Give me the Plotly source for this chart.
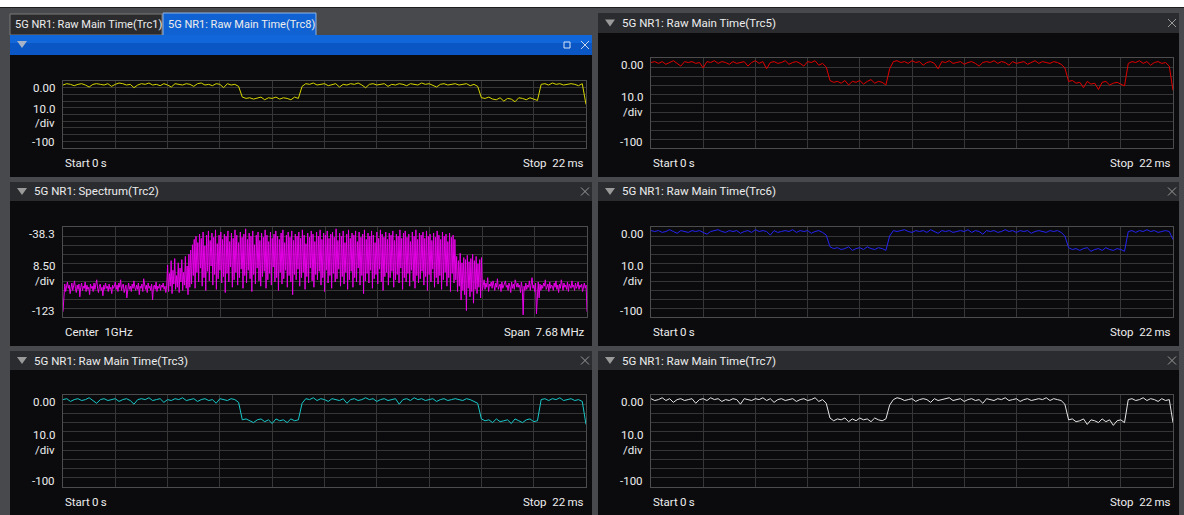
import numpy as np
import plotly.graph_objects as go

W, H = 1184, 515

# ---------------- data ----------------
time_start_ms = 0
time_stop_ms = 22
time_top_db = 0
time_bottom_db = -100
time_div_db = 10

spec_center_ghz = 1
spec_span_mhz = 7.68
spec_top_db = -38.3
spec_bottom_db = -123
spec_div_db = 8.47

trc8_yellow = [
    -6, -4, -5, -7, -5, -4, -6, -9, -5, -4, -5, -6, -4, -8, -5, -3, -4, -6, -5, -10, -6, -4, -5, -3,
    -6, -5, -7, -4, -6, -9, -4, -5, -6, -4, -5, -8, -4, -3, -6, -5, -7, -4, -5, -10, -4, -6, -5, -8,
    -24, -26, -25, -27, -25, -24, -28, -25, -26, -24, -27, -25, -26, -28, -24, -26,
    -8,
    -4, -5, -3, -6, -5, -4, -7, -5, -4, -9, -5, -6, -4, -5, -3, -6, -10, -5, -4, -6, -5, -4, -8, -5,
    -6, -4, -5, -7, -4, -5, -6, -3, -5, -4, -6, -9, -5, -4, -6, -5, -4, -6, -5, -4, -7, -5, -8,
    -25, -26, -24, -27, -28, -25, -30, -26, -27, -31, -25, -26, -28, -25, -27, -29,
    -5, -4, -6, -3, -5, -4, -6, -5, -4, -5, -7, -4,
    -35,
]

trc5_red = [
    -5, -4, -6, -4, -7, -5, -3, -6, -9, -4, -5, -4, -6, -5, -11, -4, -5, -3, -6, -4, -5, -7, -4, -6,
    -5, -4, -9, -5, -3, -6, -4, -12, -5, -4, -6, -5, -3, -7, -5, -4, -6, -9, -4, -5, -3, -8, -6, -10,
    -25, -27, -26, -28, -25, -30, -26, -27, -25, -29, -26, -24, -28, -26, -27, -30,
    -12,
    -4, -3, -5, -4, -6, -3, -5, -4, -8, -5, -4, -6, -12, -4, -5, -3, -6, -5, -4, -7, -5, -4, -6, -9,
    -5, -4, -5, -3, -6, -4, -5, -8, -4, -6, -5, -4, -7, -5, -3, -6, -4, -5, -6, -4, -5, -7, -11,
    -26, -25, -28, -27, -33, -26, -29, -28, -35, -27, -26, -30, -28, -27, -29, -31,
    -6, -4, -5, -3, -6, -4, -8, -5, -4, -6, -5, -9,
    -36,
]

trc6_blue = [
    -4, -5, -4, -6, -5, -3, -5, -7, -4, -5, -6, -4, -5, -4, -6, -8, -5, -4, -3, -5, -6, -4, -5, -4,
    -7, -5, -4, -6, -3, -5, -4, -5, -9, -4, -6, -5, -4, -5, -3, -6, -4, -5, -4, -7, -5, -4, -6, -9,
    -22, -24, -23, -25, -24, -22, -26, -24, -23, -25, -22, -24, -25, -23, -24, -26,
    -10,
    -4, -5, -4, -3, -5, -6, -4, -5, -4, -6, -3, -5, -7, -4, -5, -4, -6, -5, -4, -5, -3, -6, -4, -5,
    -8, -4, -5, -4, -6, -5, -3, -5, -4, -6, -4, -5, -4, -7, -5, -4, -5, -6, -4, -5, -4, -6, -10,
    -23, -25, -24, -26, -24, -23, -27, -25, -24, -26, -23, -25, -26, -24, -25, -27,
    -5, -4, -6, -4, -5, -3, -5, -4, -6, -5, -4, -5,
    -14,
]

trc3_cyan = [
    -5, -4, -7, -5, -4, -6, -5, -3, -6, -9, -5, -4, -6, -5, -4, -7, -5, -4, -6, -10, -5, -4, -5, -3,
    -6, -5, -4, -8, -5, -6, -4, -5, -3, -6, -5, -4, -7, -5, -4, -6, -5, -9, -4, -5, -6, -4, -5, -8,
    -27, -26, -28, -30, -27, -26, -29, -27, -31, -26, -28, -27, -30, -26, -28, -27,
    -9,
    -4, -5, -3, -6, -4, -5, -7, -4, -5, -6, -4, -9, -5, -4, -6, -5, -3, -5, -4, -7, -5, -4, -6, -5,
    -4, -10, -5, -4, -6, -3, -5, -4, -6, -5, -4, -7, -5, -4, -6, -5, -4, -5, -6, -4, -5, -7, -9,
    -26, -28, -27, -30, -26, -29, -28, -27, -31, -26, -28, -30, -27, -26, -29, -28,
    -5, -4, -6, -4, -5, -3, -6, -5, -4, -6, -5, -7,
    -32,
]

trc7_white = [
    -4, -6, -5, -3, -6, -4, -8, -5, -4, -6, -5, -4, -9, -5, -4, -6, -3, -5, -4, -7, -5, -6, -4, -5,
    -10, -4, -5, -6, -4, -5, -3, -6, -4, -8, -5, -4, -6, -5, -4, -7, -5, -4, -6, -5, -3, -7, -5, -9,
    -25, -28, -26, -27, -25, -29, -26, -28, -25, -27, -26, -29, -25, -27, -28, -26,
    -11,
    -5, -3, -4, -6, -5, -4, -7, -5, -4, -5, -8, -4, -6, -5, -4, -3, -6, -5, -4, -7, -5, -4, -6, -5,
    -9, -4, -5, -6, -4, -5, -3, -6, -5, -4, -7, -5, -4, -6, -5, -4, -5, -3, -6, -4, -5, -6, -10,
    -27, -26, -29, -28, -26, -32, -27, -28, -30, -26, -29, -27, -33, -28, -27, -30,
    -5, -4, -6, -5, -3, -6, -4, -5, -7, -4, -6, -5,
    -30,
]

spec_floor_left = [
    -118, -97, -92, -99, -94, -90, -96, -93, -101, -95, -91, -98, -94, -89, -96, -100, -93, -97, -92, -104,
    -95, -91, -98, -94, -96, -90, -99, -93, -97, -95, -102, -92, -96, -94, -99, -91, -97, -93, -88, -96,
    -100, -94, -92, -98, -95, -103, -93, -97, -91, -96, -94, -99, -92, -97, -95, -101, -93, -96, -94, -90,
    -97, -93, -99, -91, -95, -88, -98, -94, -92, -100, -96, -93, -105, -95, -91, -97, -94, -99, -92, -96,
    -89, -95, -98, -93, -97, -91, -102, -94, -96, -92, -99, -87, -95, -97, -93, -100, -91, -96, -94, -98,
    -92, -107, -95, -93, -97, -90, -99, -94, -96, -92, -98, -93, -95, -91, -97, -94, -100, -93,
]
spec_edge_left = [
    -74, -99, -82, -94, -70, -101, -79, -92, -68, -97, -84, -95, -72,
    -100, -77, -90, -69, -98, -81, -93, -66, -96, -75, -102, -64, -95,
]
spec_band = [
    -60, -92, -55, -84, -50, -96, -47, -81, -53, -90, -45, -77, -49, -94, -43, -86, -56, -98, -46, -80,
    -42, -89, -51, -75, -44, -93, -48, -83, -41, -97, -54, -87, -46, -79, -43, -91, -50, -85, -45, -100,
    -47, -82, -42, -90, -52, -76, -44, -95, -49, -88, -41, -81, -46, -93, -53, -86, -43, -78, -48, -96,
    -45, -84, -40, -91, -50, -79, -44, -87, -47, -99, -42, -83, -55, -92, -46, -77, -43, -89, -51, -94,
    -44, -85, -48, -80, -41, -96, -46, -88, -52, -82, -43, -93, -49, -76, -45, -90, -42, -86, -47, -98,
    -50, -81, -44, -92, -41, -87, -53, -79, -46, -95, -43, -84, -48, -90, -42, -102, -51, -83, -45, -88,
    -47, -78, -43, -94, -49, -86, -41, -81, -46, -97, -54, -85, -44, -91, -48, -77, -42, -89, -45, -95,
    -52, -83, -43, -88, -47, -80, -41, -93, -50, -86, -44, -99, -46, -79, -42, -91, -49, -84, -45, -96,
    -43, -82, -48, -90, -40, -87, -51, -78, -44, -94, -47, -85, -42, -92, -53, -81, -45, -97, -41, -88,
    -49, -80, -44, -95, -46, -86, -42, -90, -52, -77, -43, -93, -48, -84, -45, -101, -41, -89, -50, -82,
    -44, -91, -47, -79, -42, -96, -46, -87, -53, -83, -43, -92, -49, -78, -41, -90, -45, -98, -48, -85,
    -43, -81, -50, -93, -44, -86, -46, -80, -42, -95, -51, -88, -45, -83, -47, -91, -41, -77, -49, -97,
    -44, -86, -42, -90, -48, -82, -45, -94, -52, -79, -43, -89, -47, -96, -41, -84, -50, -91, -44, -87,
    -46, -80, -43, -93, -49, -85, -42, -98, -47, -83, -45, -90, -51, -78, -44, -95, -48, -86, -42, -92,
    -46, -84, -50, -97, -43, -88, -47, -81, -45, -94, -52, -86, -44, -99, -48, -82, -46, -91, -50, -88,
]
spec_edge_right = [
    -66, -99, -70, -94, -63, -107, -72, -98, -67, -102, -69, -117, -65, -96, -71,
    -104, -68, -99, -64, -110, -70, -97, -66, -101, -73, -95, -69, -105, -67, -98,
]
spec_floor_right = [
    -93, -88, -97, -91, -95, -86, -99, -92, -94, -90, -96, -89, -93, -98, -91, -95, -87, -97, -94, -92,
    -99, -90, -96, -93, -92, -89, -95, -93, -98, -91, -94, -100, -90, -96, -92, -97, -88, -94, -95, -91,
    -95, -93, -100, -90, -96, -121, -94, -98, -91, -97, -93, -95, -89, -98, -92, -86, -96, -93, -99, -91,
    -120, -97, -90, -105, -92, -98, -93, -96, -91, -94, -88, -97, -95, -92, -99, -90, -96, -93, -94, -98,
    -91, -95, -89, -97, -93, -100, -92, -96, -88, -94, -98, -91, -95, -93, -97, -90, -99, -92, -94, -96,
    -89, -95, -93, -98, -91, -96, -94, -90, -97, -93, -95, -92, -99, -94, -91, -96, -93, -118,
]
spectrum_trc2 = spec_floor_left + spec_edge_left + spec_band + spec_edge_right + spec_floor_right

# ---------------- styling / layout helpers ----------------
FONT = "Roboto, Liberation Sans, sans-serif"
FS = 11.5
TXT = "#ededed"
OUTER = "#47494c"
BODY = "#0b0b0d"
HEADER = "#2a2c30"
GRID = "#363636"
FRAME = "#4c4c4c"


def px(x):
    return x / W


def py(y):
    return 1 - y / H


shapes = []
annotations = []


def rect(x0, y0, x1, y1, fill, line=None, lw=0, layer="below"):
    shapes.append(dict(type="rect", xref="paper", yref="paper",
                       x0=px(x0), x1=px(x1), y0=py(y1), y1=py(y0),
                       fillcolor=fill, line=dict(color=line or fill, width=lw), layer=layer))


def seg(x0, y0, x1, y1, color, w=1):
    shapes.append(dict(type="line", xref="paper", yref="paper",
                       x0=px(x0), x1=px(x1), y0=py(y0), y1=py(y1),
                       line=dict(color=color, width=w), layer="above"))


def tri(x, y, color="#9a9a9a"):
    path = "M {} {} L {} {} L {} {} Z".format(px(x - 5), py(y), px(x + 5), py(y), px(x), py(y + 7))
    shapes.append(dict(type="path", xref="paper", yref="paper", path=path,
                       fillcolor=color, line=dict(color=color, width=0), layer="above"))


def cross(x, y, color="#9a9a9a"):
    seg(x - 4, y - 4, x + 4, y + 4, color)
    seg(x - 4, y + 4, x + 4, y - 4, color)


def text(s, x, y, anchor="left", size=FS, color=TXT):
    annotations.append(dict(text=s, x=px(x), y=py(y), xref="paper", yref="paper",
                            xanchor=anchor, yanchor="middle", showarrow=False,
                            font=dict(family=FONT, size=size, color=color)))


# outer frame
rect(0, 7, W, H, OUTER)
seg(0, 7.5, W, 7.5, "#1e1e1e")

LEFT = (10, 592)
RIGHT = (598, 1179)

# top-left panel with tabs
rect(LEFT[0], 55, LEFT[1], 177, BODY)
rect(10, 14, 162, 35, "#2b2b2d", line="#7a7a7a", lw=1)
text("5G NR1: Raw Main Time(Trc1)", 13, 25, size=11)
rect(163, 13, 316, 36, "#1062d2", line="#8fb4e6", lw=1)
text("5G NR1: Raw Main Time(Trc8)", 166, 25, size=11)
rect(LEFT[0], 35, LEFT[1], 55, "#0a56c4")
rect(LEFT[0], 35, LEFT[1], 43, "#1166da")
tri(22, 41, "#a7b4c8")
rect(564, 42, 570, 48, "rgba(0,0,0,0)", line="#d8e4f5", lw=1, layer="above")
cross(585, 45, "#c8d6ee")

# other panels: (x-range, header-top, header-bottom, body-bottom, title)
panel_boxes = [
    (RIGHT, 13, 33, 177, "5G NR1: Raw Main Time(Trc5)"),
    (LEFT, 182, 201, 346, "5G NR1: Spectrum(Trc2)"),
    (RIGHT, 182, 201, 346, "5G NR1: Raw Main Time(Trc6)"),
    (LEFT, 351, 370, 515, "5G NR1: Raw Main Time(Trc3)"),
    (RIGHT, 351, 370, 515, "5G NR1: Raw Main Time(Trc7)"),
]
for (xr, ht, hb, bb, title) in panel_boxes:
    rect(xr[0], ht, xr[1], hb, HEADER)
    rect(xr[0], hb, xr[1], bb, BODY)
    cy = (ht + hb) / 2
    tri(xr[0] + 12, cy - 3.5)
    text(title, xr[0] + 22, cy)
    cross(xr[1] - 7, cy)

# plot areas: (x0, x1, y0, y1, kind, series, color)
plots = [
    (63, 586, 81, 148, "time", trc8_yellow, "#d6d600"),
    (63, 587, 227, 317, "spec", spectrum_trc2, "#e600e6"),
    (63, 586, 395, 487, "time", trc3_cyan, "#19c8c8"),
    (651, 1173, 58, 148, "time", trc5_red, "#e00000"),
    (651, 1173, 227, 317, "time", trc6_blue, "#2424f0"),
    (651, 1173, 395, 487, "time", trc7_white, "#e6e6e6"),
]

fig = go.Figure()
layout_axes = {}
for i, (x0, x1, y0, y1, kind, series, color) in enumerate(plots, start=1):
    xa = "xaxis" if i == 1 else "xaxis%d" % i
    ya = "yaxis" if i == 1 else "yaxis%d" % i
    xr = "x" if i == 1 else "x%d" % i
    yr = "y" if i == 1 else "y%d" % i
    common = dict(showgrid=True, gridcolor=GRID, gridwidth=1, zeroline=False,
                  showticklabels=False, ticks="", showline=True, linecolor=FRAME,
                  linewidth=1, mirror=True, fixedrange=True)
    if kind == "time":
        xs = np.linspace(time_start_ms, time_stop_ms, len(series))
        xaxis = dict(range=[time_start_ms, time_stop_ms], tick0=0,
                     dtick=(time_stop_ms - time_start_ms) / 10, **common)
        yaxis = dict(range=[time_bottom_db, time_top_db], tick0=0, dtick=time_div_db, **common)
        top_lbl, div_lbl, bot_lbl = "0.00", "10.0", "-100"
    else:
        xs = np.linspace(-spec_span_mhz / 2, spec_span_mhz / 2, len(series))
        xaxis = dict(range=[-spec_span_mhz / 2, spec_span_mhz / 2], tick0=-spec_span_mhz / 2,
                     dtick=spec_span_mhz / 10, **common)
        yaxis = dict(range=[spec_bottom_db, spec_top_db], tick0=spec_bottom_db,
                     dtick=spec_div_db, **common)
        top_lbl, div_lbl, bot_lbl = "-38.3", "8.50", "-123"
    xaxis.update(domain=[px(x0), px(x1)], anchor=yr)
    yaxis.update(domain=[py(y1), py(y0)], anchor=xr)
    layout_axes[xa] = xaxis
    layout_axes[ya] = yaxis
    fig.add_trace(go.Scatter(x=xs, y=series, mode="lines", line=dict(color=color, width=1),
                             xaxis=xr, yaxis=yr, hoverinfo="skip", showlegend=False))

    lx = x0 - 6
    mid = (y0 + y1) / 2
    text(top_lbl, lx, y0 + 6.5, anchor="right")
    text(div_lbl, lx, mid - 6, anchor="right")
    text("/div", lx, mid + 8.5, anchor="right")
    text(bot_lbl, lx, y1 - 6.5, anchor="right")
    by = y1 + 15
    if kind == "time":
        text("Start", x0, by)
        text("0\u2009s", x0 + 27, by)
        text("Stop\u00a0\u00a022\u2009ms", x1, by, anchor="right")
    else:
        text("Center\u00a0\u00a01GHz", x0, by)
        text("Span\u00a0\u00a07.68\u2009MHz", x1, by, anchor="right")

fig.update_layout(
    width=W, height=H, margin=dict(l=0, r=0, t=0, b=0),
    paper_bgcolor="#ffffff", plot_bgcolor=BODY,
    shapes=shapes, annotations=annotations, showlegend=False,
    **layout_axes,
)

fig.write_html("out.html", config={"displayModeBar": False, "staticPlot": True},
               post_script="document.body.style.margin='0';document.body.style.overflow='hidden';")
